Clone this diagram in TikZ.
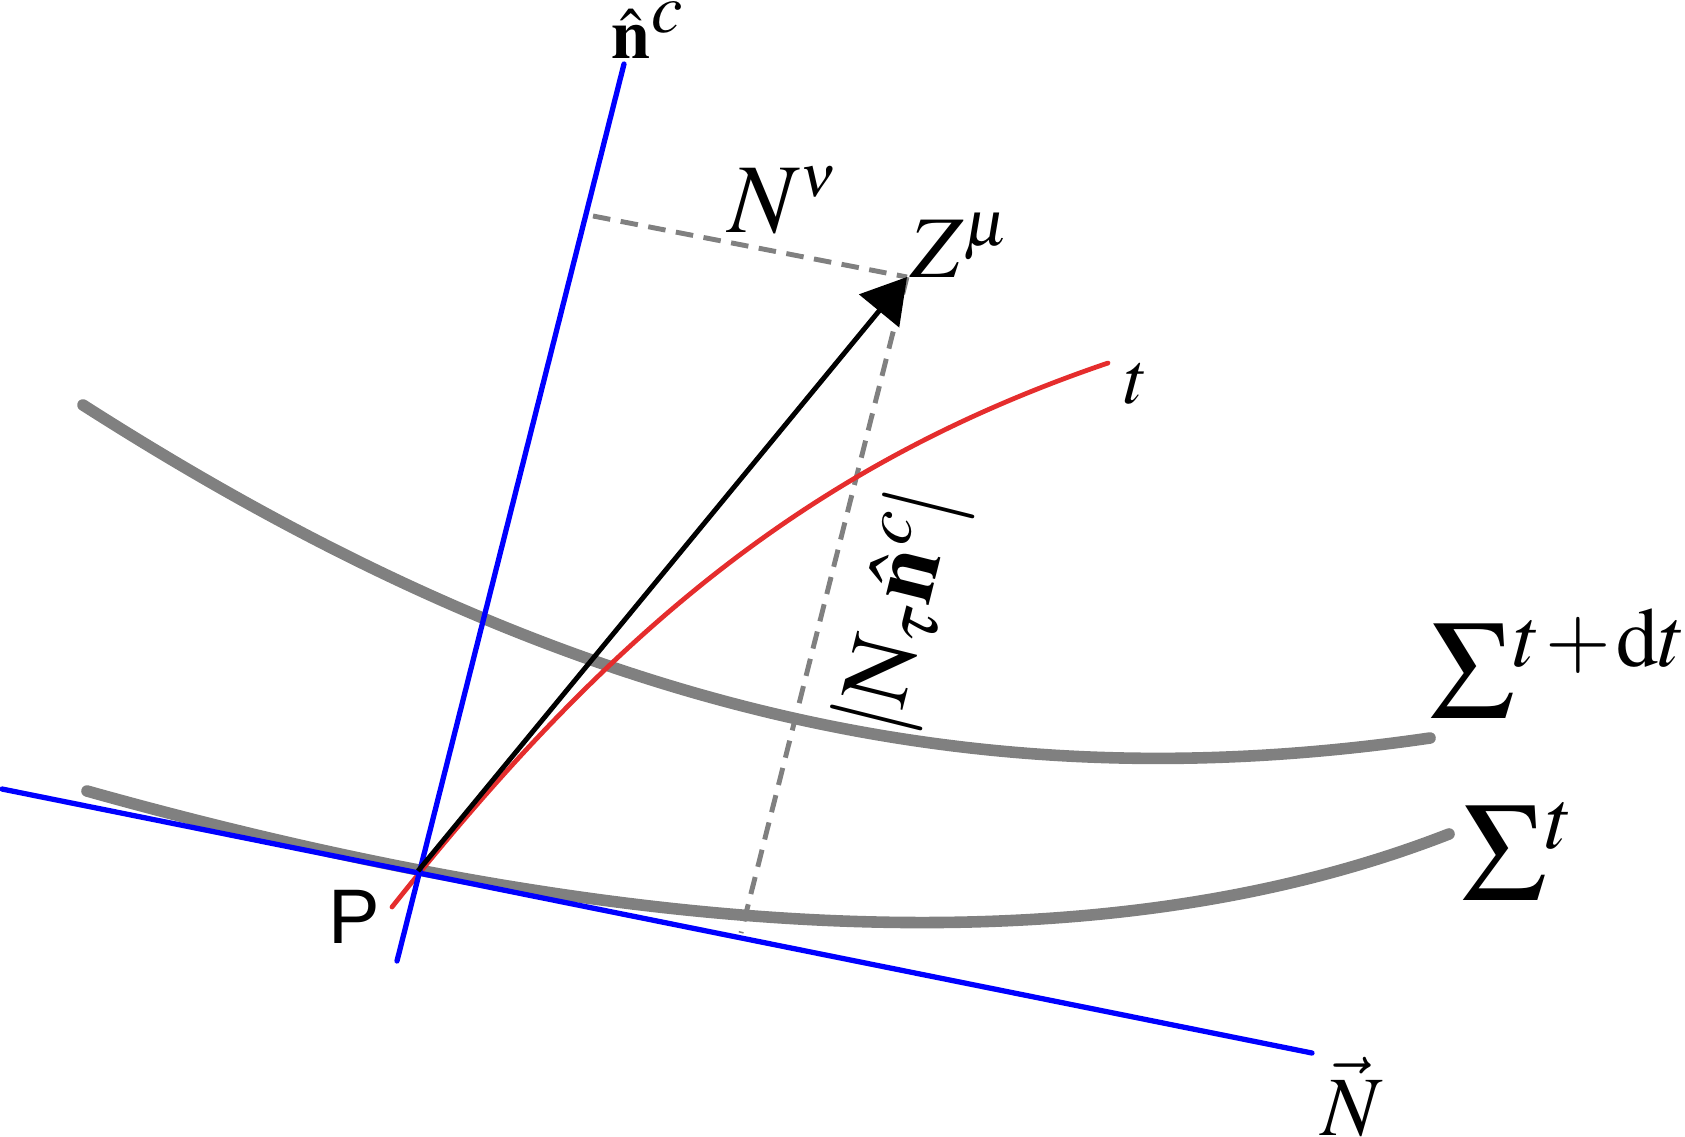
\documentclass[tikz,border=0pt]{standalone}
\usepackage{amsmath,amssymb}
\usepackage{mathptmx}
\usepackage[no-math]{fontspec}
\setmainfont{Liberation Serif}
\newfontfamily\labelsans{Liberation Sans}
\usetikzlibrary{calc,arrows.meta}
\definecolor{curvered}{RGB}{229,45,45}

\begin{document}
\begin{tikzpicture}[x=0.01cm, y=-0.01cm,
     surface/.style = {draw=gray, line width=3.3pt, line cap=round},
     axis/.style = {draw=blue, line width=1.5pt, line cap=round},
     worldline/.style = {draw=curvered, line width=1.35pt, line cap=round},
     vec/.style = {draw=black, line width=1.4pt, -{Triangle[length=12.5pt,width=14.5pt]}},
     proj/.style = {draw=gray, line width=1.4pt, dash pattern=on 5pt off 3pt},
     lbl/.style = {inner sep=0pt}
    ]
    \useasboundingbox (0,0) rectangle (1685,1136);

    \coordinate (P) at (418,871);
    \coordinate (Z) at (907,277);
    \coordinate (ntop) at (624,64);
    \coordinate (nbot) at (397,961);
    \coordinate (Nleft) at (2,789);
    \coordinate (Nright) at (1312,1053);
    \coordinate (footn) at (593,216);
    \coordinate (footN) at (741,933);
    \coordinate (sdtbeg) at (83,405);
    \coordinate (sdtend) at (1430,738);
    \coordinate (stbeg) at (87,791);
    \coordinate (stend) at (1449,834);
    \coordinate (tbeg) at (392,907);
    \coordinate (tend) at (1108,363);

    \node [lbl, font=\fontsize{20}{22}\selectfont] (nclbl) at (648,30) {$\hat{\mathbf{n}}^{\textstyle c}$};
    \node [lbl, font=\fontsize{28}{30}\selectfont] (Nnu) at (783,200) {$N^{\scriptscriptstyle\nu}$};
    \node [lbl, font=\fontsize{25}{27}\selectfont] (Zmu) at (960,245) {$Z^{\mu}$};
    \node [lbl, font=\fontsize{21}{23}\selectfont] (tlbl) at (1136,384) {$t$};
    \node [lbl, font=\fontsize{27}{29}\selectfont, rotate=76] (projlbl) at (903,612) {$|\mathrm{N}_{\tau}\hat{\mathbf{n}}^{c}|$};
    \node [lbl, font=\fontsize{40}{44}\selectfont, anchor=base west] (Sdt) at (1430,718) {$\Sigma^{\scriptscriptstyle t\mskip1mu+\mskip1mu\mathrm{d}t}$};
    \node [lbl, font=\fontsize{40}{44}\selectfont, anchor=base west] (St) at (1462,900) {$\Sigma^{\scriptscriptstyle t}$};
    \node [lbl, font=\labelsans\fontsize{22}{24}\selectfont] (Plbl) at (354,917) {P};
    \node [lbl, font=\fontsize{24}{26}\selectfont] (Nvec) at (1352,1097) {$\vec{N}$};

    \draw[surface] (sdtbeg) .. controls (560,710) and (970,805) .. (sdtend);
    \draw[surface] (stbeg) .. controls (537,917) and (1049,990) .. (stend);
    \draw[proj] (footn) -- (Z);
    \draw[proj] (Z) -- (footN);
    \draw[worldline] (tbeg) .. controls (609,634) and (808,465) .. (tend);
    \draw[axis] (nbot) -- (ntop);
    \draw[axis] (Nleft) -- (Nright);
    \draw[vec] (P) -- (Z);

\end{tikzpicture}
\end{document}
